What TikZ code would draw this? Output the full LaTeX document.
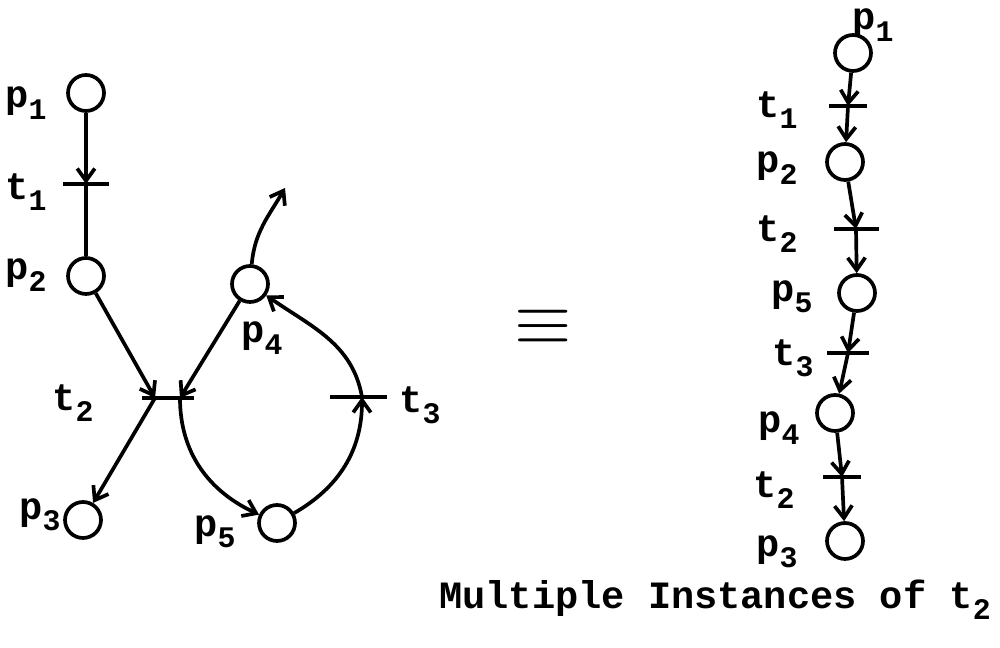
\documentclass[tikz,border=0pt]{standalone}
\usepackage{fontspec}
\setmonofont{Liberation Mono}
\usetikzlibrary{arrows.meta}
\newcommand\ix[1]{\raisebox{-0.55ex}{\fontsize{17}{17}\selectfont#1}}

\begin{document}
\begin{tikzpicture}[
  x=0.02cm, y=0.02cm,
  place/.style={draw, circle, line width=2.1pt, minimum size=0.72cm, inner sep=0pt},
  trans/.style={fill=black, rectangle, inner sep=0pt, minimum height=2.1pt, minimum width=#1},
  lab/.style={font=\ttfamily\bfseries\fontsize{22}{24}\selectfont, inner sep=0pt},
  arc/.style={-{Straight Barb[length=7pt,width=10pt]}, line width=2.1pt},
  plain/.style={line width=2.1pt}
]
  \useasboundingbox (0,0) rectangle (1000,648);

  % left net
  \node[place] (p1) at (86,555) {};
  \node[trans=0.92cm] (t1) at (86,464) {};
  \node[place] (p2) at (86,372) {};
  \node[trans=1.04cm] (t2) at (168,250) {};
  \node[place] (p3) at (83,128) {};
  \node[place] (p4) at (250,364) {};
  \node[trans=1.14cm] (t3) at (358,251) {};
  \node[place] (p5) at (277,125) {};
  \coordinate (out4) at (285,460);

  \node[lab] (lp1) at (26,545) {p\ix{1}};
  \node[lab] (lt1) at (26,456) {t\ix{1}};
  \node[lab] (lp2) at (26,373) {p\ix{2}};
  \node[lab] (lt2) at (73,245) {t\ix{2}};
  \node[lab] (lp3) at (40,133) {p\ix{3}};
  \node[lab] (lp4) at (262,310) {p\ix{4}};
  \node[lab] (lp5) at (215,116) {p\ix{5}};
  \node[lab] (lt3) at (420,243) {t\ix{3}};

  \draw[arc] (p1) -- (t1.center);
  \draw[plain] (t1.center) -- (p2);
  \draw[arc] (p2) -- ([xshift=-0.26cm]t2.center);
  \draw[arc] (p4) -- ([xshift=0.24cm]t2.center);
  \draw[arc] ([xshift=-0.26cm]t2.center) -- (p3);
  \draw[arc] ([xshift=0.24cm]t2.center) to[out=-90, in=155] (p5);
  \draw[arc] (p5) to[out=30, in=-90] ([xshift=0.08cm]t3.center);
  \draw[arc] ([xshift=0.08cm]t3.center) to[out=100, in=-35] (p4);
  \draw[arc] (p4) to[out=85, in=240] (out4);

  % equivalence
  \node (eq) at (543,321) {\scalebox{4.2}{$\equiv$}};

  % unfolded firing sequence
  \node[place] (rp1) at (853,595) {};
  \node[trans=0.76cm] (rt1) at (848,542) {};
  \node[place] (rp2) at (845,486) {};
  \node[trans=0.9cm] (rt2) at (856,419) {};
  \node[place] (rp5) at (857,355) {};
  \node[trans=0.84cm] (rt3) at (848,295) {};
  \node[place] (rp4) at (835,235) {};
  \node[trans=0.76cm] (rt2b) at (842,171) {};
  \node[place] (rp3) at (845,107) {};

  \node[lab] (rlp1) at (873,623) {p\ix{1}};
  \node[lab] (rlt1) at (777,538) {t\ix{1}};
  \node[lab] (rlp2) at (777,480) {p\ix{2}};
  \node[lab] (rlt2) at (777,414) {t\ix{2}};
  \node[lab] (rlp5) at (792,351) {p\ix{5}};
  \node[lab] (rlt3) at (793,290) {t\ix{3}};
  \node[lab] (rlp4) at (779,220) {p\ix{4}};
  \node[lab] (rlt2b) at (774,158) {t\ix{2}};
  \node[lab] (rlp3) at (777,96) {p\ix{3}};

  \draw[arc] (rp1) -- (rt1.center);
  \draw[arc] (rt1.center) -- (rp2);
  \draw[arc] (rp2) -- (rt2.center);
  \draw[arc] (rt2.center) -- (rp5);
  \draw[arc] (rp5) -- (rt3.center);
  \draw[arc] (rt3.center) -- (rp4);
  \draw[arc] (rp4) -- (rt2b.center);
  \draw[arc] (rt2b.center) -- (rp3);

  \node[lab] (caption) at (715,48) {Multiple Instances of t\ix{2}};
\end{tikzpicture}
\end{document}
